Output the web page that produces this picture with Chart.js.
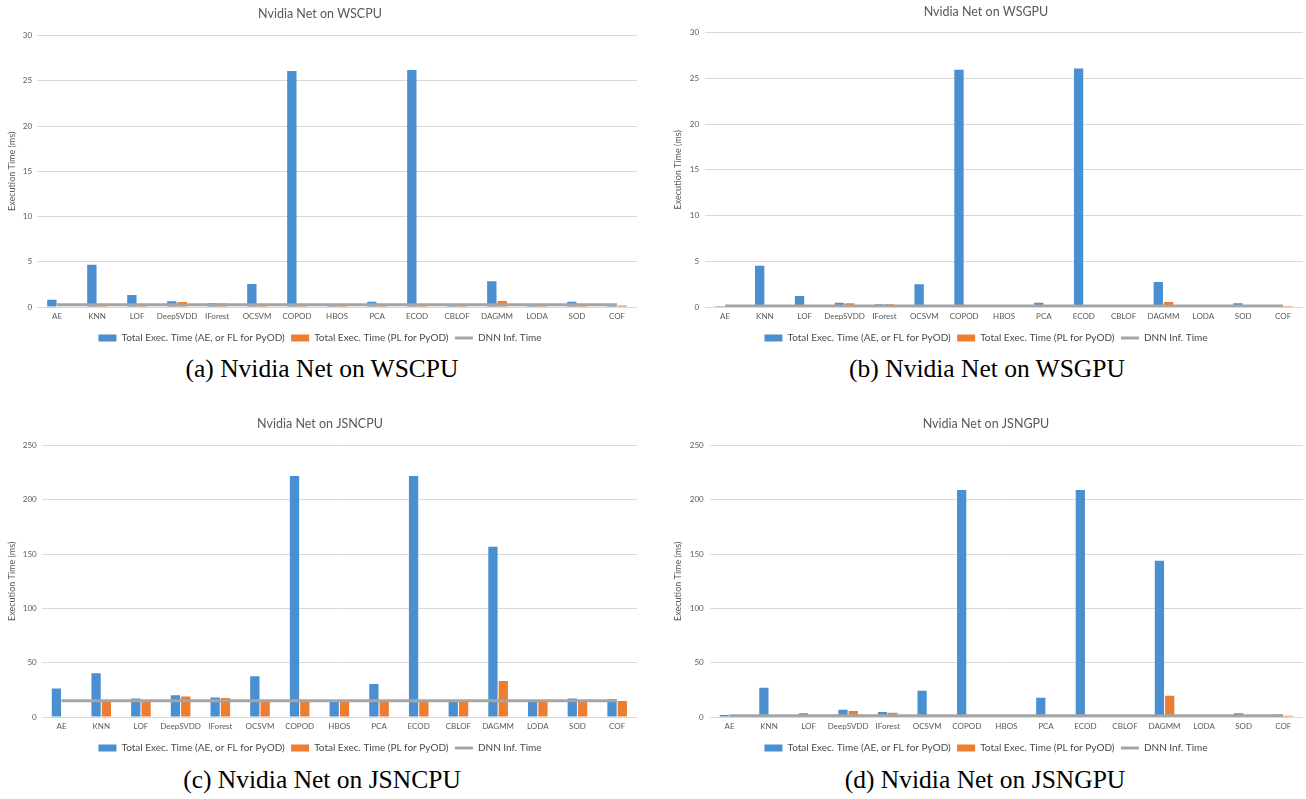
<!DOCTYPE html>
<html>
<head>
<meta charset="utf-8">
<script src="https://cdn.jsdelivr.net/npm/chart.js@4.4.0/dist/chart.umd.min.js"></script>
<style>
  body { margin: 0; background: #fff; width: 1306px; height: 799px; position: relative; overflow: hidden; }
  .panel { position: absolute; }
  .caption {
    position: absolute;
    font-family: "Liberation Serif", "Times New Roman", serif;
    font-size: 25.5px;
    line-height: 25px;
    color: #000;
    text-align: center;
    white-space: nowrap;
  }
</style>
</head>
<body>
<div class="panel" style="left:0;top:0;width:650px;height:353px"><canvas id="chartWSCPU"></canvas></div>
<div class="panel" style="left:655px;top:0;width:651px;height:353px"><canvas id="chartWSGPU"></canvas></div>
<div class="panel" style="left:0;top:410px;width:650px;height:353px"><canvas id="chartJSNCPU"></canvas></div>
<div class="panel" style="left:655px;top:410px;width:651px;height:353px"><canvas id="chartJSNGPU"></canvas></div>

<div class="caption" style="left:22px;top:356px;width:600px">(a) Nvidia Net on WSCPU</div>
<div class="caption" style="left:687px;top:356px;width:600px">(b) Nvidia Net on WSGPU</div>
<div class="caption" style="left:22px;top:767px;width:600px">(c) Nvidia Net on JSNCPU</div>
<div class="caption" style="left:685px;top:767px;width:600px">(d) Nvidia Net on JSNGPU</div>

<script>
// Detector names (x categories)
const algorithms = ["AE", "KNN", "LOF", "DeepSVDD", "IForest", "OCSVM", "COPOD", "HBOS",
  "PCA", "ECOD", "CBLOF", "DAGMM", "LODA", "SOD", "COF"];

const seriesNames = ["Total Exec. Time (AE, or FL for PyOD)", "Total Exec. Time (PL for PyOD)", "DNN Inf. Time"];

// (a) WSCPU, ms
const wscpuFL = [0.81, 4.67, 1.33, 0.63, 0.42, 2.55, 26.1, 0.2, 0.58, 26.2, 0.2, 2.85, 0.2, 0.58, 0.2];
const wscpuPL = [null, 0.2, 0.2, 0.55, 0.4, 0.2, 0.2, 0.2, 0.2, 0.2, 0.2, 0.67, 0.2, 0.2, 0.17];
const wscpuDNN = [0.25, 0.25, 0.25, 0.25, 0.25, 0.25, 0.25, 0.25, 0.25, 0.25, 0.25, 0.25, 0.25, 0.25, 0.25];

// (b) WSGPU, ms
const wsgpuFL = [0.12, 4.5, 1.2, 0.47, 0.29, 2.5, 25.95, 0.1, 0.47, 26.07, 0.1, 2.72, 0.1, 0.4, 0.1];
const wsgpuPL = [null, 0.1, 0.1, 0.4, 0.29, 0.1, 0.1, 0.1, 0.1, 0.1, 0.1, 0.54, 0.1, 0.1, 0.1];
const wsgpuDNN = [0.12, 0.12, 0.12, 0.12, 0.12, 0.12, 0.12, 0.12, 0.12, 0.12, 0.12, 0.12, 0.12, 0.12, 0.12];

// (c) JSNCPU, ms
const jsncpuFL = [26.2, 40.3, 17, 20.1, 17.9, 37.5, 221.9, 15.5, 30.5, 222, 15.5, 156.8, 15.5, 17, 16.3];
const jsncpuPL = [null, 14.8, 14.8, 18.8, 17.6, 14.8, 14.8, 14.8, 14.8, 14.8, 14.8, 33.2, 14.8, 14.8, 14.8];
const jsncpuDNN = [15, 15, 15, 15, 15, 15, 15, 15, 15, 15, 15, 15, 15, 15, 15];

// (d) JSNGPU, ms
const jsngpuFL = [1.9, 26.9, 3.4, 6.7, 4.6, 24.1, 209, 1.3, 17.7, 209, 1.3, 143.9, 1.3, 3.4, 2.4];
const jsngpuPL = [null, 1.1, 1.1, 5.5, 4.0, 1.1, 1.1, 1.1, 1.1, 1.1, 1.1, 19.5, 1.1, 1.1, 1.2];
const jsngpuDNN = [1.2, 1.2, 1.2, 1.2, 1.2, 1.2, 1.2, 1.2, 1.2, 1.2, 1.2, 1.2, 1.2, 1.2, 1.2];

const BLUE = "#4a8fcf";
const ORANGE = "#ed7d31";
const GRAY = "#a5a5a5";
const TEXT = "#595959";
const FONT = "Lato, 'Open Sans', sans-serif";

/**
 * Build one panel
 */
function makeChart(id, opts) {
  const ctx = document.getElementById(id);
  return new Chart(ctx, {
    type: "bar",
    data: {
      labels: algorithms,
      datasets: [
        {
          label: seriesNames[0],
          data: opts.fl,
          backgroundColor: BLUE,
          pointStyle: "rect",
          categoryPercentage: 0.52,
          barPercentage: 0.9,
          order: 2,
        },
        {
          label: seriesNames[1],
          data: opts.pl,
          backgroundColor: ORANGE,
          pointStyle: "rect",
          categoryPercentage: 0.52,
          barPercentage: 0.9,
          order: 2,
        },
        {
          type: "line",
          label: seriesNames[2],
          data: opts.dnn,
          borderColor: GRAY,
          backgroundColor: GRAY,
          borderWidth: 3,
          pointRadius: 0,
          pointStyle: "line",
          order: 1,
        },
      ],
    },
    options: {
      responsive: true,
      maintainAspectRatio: false,
      animation: false,
      layout: {
        padding: { left: opts.padLeft, right: opts.padRight, top: 0, bottom: 0 },
      },
      plugins: {
        title: {
          display: true,
          text: opts.title,
          color: TEXT,
          font: { family: FONT, size: 12.5, weight: "normal" },
          padding: { top: opts.titleTop, bottom: opts.titleBottom },
        },
        legend: {
          position: "bottom",
          labels: {
            usePointStyle: true,
            pointStyleWidth: 18,
            boxHeight: 7,
            padding: 6.4,
            color: "#4a4a4a",
            font: { family: FONT, size: 10 },
            sort: (a, b) => a.datasetIndex - b.datasetIndex,
          },
        },
        tooltip: { enabled: false },
      },
      scales: {
        x: {
          grid: { display: false, drawTicks: false },
          border: { display: false },
          ticks: {
            color: TEXT,
            font: { family: FONT, size: 8 },
            padding: 5,
            maxRotation: 0,
            autoSkip: false,
          },
        },
        y: {
          min: 0,
          max: opts.max,
          grid: { color: "#d9d9d9", lineWidth: 1, drawTicks: false },
          border: { display: false },
          ticks: {
            stepSize: opts.step,
            color: TEXT,
            font: { family: FONT, size: 8 },
            padding: opts.tickPad,
          },
          title: {
            display: true,
            text: "Execution Time (ms)",
            color: TEXT,
            font: { family: FONT, size: 9 },
            padding: { top: 4, bottom: 0 },
          },
        },
      },
    },
  });
}

makeChart("chartWSCPU", {
  title: "Nvidia Net on WSCPU", fl: wscpuFL, pl: wscpuPL, dnn: wscpuDNN,
  max: 30, step: 5, padLeft: 3, padRight: 13, tickPad: 5, titleTop: 6.8, titleBottom: 13.8,
});
makeChart("chartWSGPU", {
  title: "Nvidia Net on WSGPU", fl: wsgpuFL, pl: wsgpuPL, dnn: wsgpuDNN,
  max: 30, step: 5, padLeft: 14, padRight: 3, tickPad: 6, titleTop: 4.8, titleBottom: 12.8,
});
makeChart("chartJSNCPU", {
  title: "Nvidia Net on JSNCPU", fl: jsncpuFL, pl: jsncpuPL, dnn: jsncpuDNN,
  max: 250, step: 50, padLeft: 3, padRight: 13, tickPad: 5, titleTop: 6.8, titleBottom: 13.8,
});
makeChart("chartJSNGPU", {
  title: "Nvidia Net on JSNGPU", fl: jsngpuFL, pl: jsngpuPL, dnn: jsngpuDNN,
  max: 250, step: 50, padLeft: 14, padRight: 3, tickPad: 6, titleTop: 6.8, titleBottom: 13.8,
});
</script>
</body>
</html>
